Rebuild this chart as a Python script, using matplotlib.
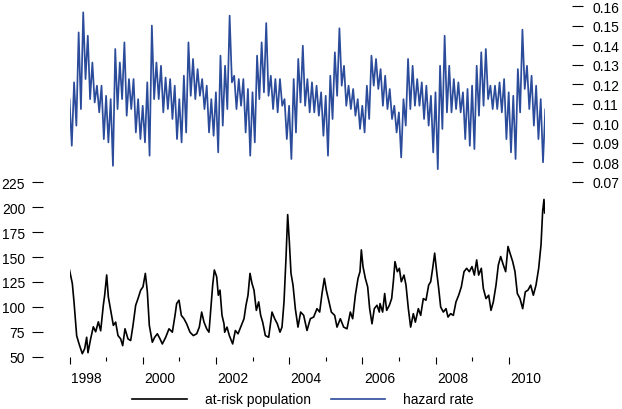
import numpy as np
import matplotlib
matplotlib.use('Agg')
import matplotlib.pyplot as plt
from matplotlib.lines import Line2D

# Helvetica-like text everywhere
plt.rcParams['font.family'] = ['Liberation Sans', 'DejaVu Sans']
plt.rcParams['font.size'] = 10

# at-risk population (left axis), time given in years after 1998-01-01
pop_t = [0.00, 0.077, 0.123, 0.196, 0.26, 0.35, 0.414, 0.469, 0.505, 0.578,
         0.651, 0.715, 0.788, 0.852, 0.924, 0.961, 1.016, 1.061, 1.125, 1.198,
         1.261, 1.325, 1.398, 1.453, 1.516, 1.598, 1.671, 1.735, 1.808, 1.872,
         1.945, 2.008, 2.072, 2.127, 2.181, 2.263, 2.327, 2.4, 2.473, 2.536,
         2.628, 2.719, 2.81, 2.883, 2.928, 2.992, 3.055, 3.128, 3.201, 3.292,
         3.383, 3.475, 3.547, 3.611, 3.675, 3.748, 3.811, 3.857, 3.912, 3.957,
         4.021, 4.066, 4.112, 4.167, 4.221, 4.24, 4.303, 4.367, 4.458, 4.531,
         4.604, 4.695, 4.768, 4.822, 4.877, 4.932, 4.986, 5.041, 5.105, 5.169,
         5.223, 5.278, 5.351, 5.442, 5.533, 5.606, 5.678, 5.751, 5.806, 5.861,
         5.915, 5.961, 6.006, 6.052, 6.107, 6.17, 6.243, 6.316, 6.398, 6.489,
         6.58, 6.671, 6.762, 6.835, 6.899, 6.963, 7.017, 7.081, 7.154, 7.245,
         7.309, 7.4, 7.491, 7.582, 7.673, 7.737, 7.81, 7.883, 7.937, 7.974,
         8.019, 8.083, 8.147, 8.201, 8.265, 8.328, 8.402, 8.465, 8.484, 8.556,
         8.611, 8.666, 8.739, 8.802, 8.848, 8.893, 8.957, 9.012, 9.066, 9.139,
         9.194, 9.258, 9.321, 9.394, 9.449, 9.531, 9.595, 9.667, 9.74, 9.813,
         9.868, 9.923, 9.977, 10.032, 10.087, 10.141, 10.214, 10.287, 10.342, 10.414,
         10.487, 10.56, 10.633, 10.706, 10.779, 10.852, 10.924, 10.997, 11.061, 11.125,
         11.179, 11.252, 11.307, 11.38, 11.453, 11.516, 11.58, 11.653, 11.717, 11.781,
         11.853, 11.917, 11.981, 12.036, 12.109, 12.172, 12.236, 12.309, 12.382, 12.454,
         12.527, 12.6, 12.673, 12.746, 12.819, 12.883, 12.928, 12.964, 12.983]
pop_val = [137, 123.5, 105, 71, 63, 53, 58, 69.5, 54, 68,
           80, 75, 85, 76, 101.6, 111.7, 132, 110, 96.5, 81.4,
           84.7, 71.2, 67.9, 61.1, 78, 67.9, 66.2, 81.4, 101.6, 108.3,
           116.8, 120.1, 133.6, 115, 81.4, 64.5, 69.5, 73, 67.9, 62.8,
           69.5, 78, 74.6, 91.5, 103.3, 106.7, 91.5, 88.1, 83, 74.6,
           71.2, 73, 79.7, 94.8, 84.7, 78, 74.6, 96.5, 121.8, 137,
           130.3, 111.7, 116.8, 91.5, 83, 74.6, 79.7, 71.2, 62.8, 76.3,
           73, 81.4, 88.1, 101.6, 111.7, 133.6, 123.5, 116.8, 96.5, 105,
           91.5, 84.7, 71.2, 69.5, 94.8, 88.1, 83, 74.6, 79.7, 105,
           148.8, 192.6, 165.7, 133.6, 121.8, 98.2, 79.7, 94.8, 91.5, 76.3,
           88.1, 89.8, 98.2, 94.8, 113.4, 128.6, 116.8, 106.7, 94.8, 91.5,
           79.7, 88.1, 79.7, 78, 94.8, 88.1, 111.7, 128.6, 135.3, 157.2,
           140.4, 128.6, 120.1, 98.2, 83, 98.2, 101.6, 94.8, 103.3, 94.8,
           113.4, 96.5, 101.6, 108.3, 125.2, 145.4, 135.3, 138.7, 125.2, 131.9,
           121.8, 98.2, 79.7, 93.2, 84.7, 98.2, 91.5, 108.3, 106.7, 121.8,
           125.2, 138.7, 153.9, 135.3, 118.5, 99.9, 94.8, 98.2, 89.8, 93.2,
           91.5, 105, 111.7, 120.1, 135.3, 138.7, 135.3, 140.4, 131.9, 147.1,
           131.9, 138.7, 118.5, 108.3, 111.7, 96.5, 105, 121.8, 142.1, 150.5,
           142.1, 135.3, 160.6, 153.9, 145.4, 135.3, 113.4, 108.3, 98.2, 115.1,
           116.8, 121.8, 111.7, 121.8, 138.7, 162.3, 196, 207.8, 194.3]

# hazard rate (right axis): top and bottom of the noisy band, every 1/8 year from 1998
hazard_t = np.arange(0, 13.001, 0.125)
hazard_hi = [0.1124, 0.1210, 0.1466, 0.1569, 0.1449, 0.1312, 0.1193, 0.1193, 0.1141, 0.1124,
             0.1381, 0.1312, 0.1415, 0.1227, 0.1227, 0.1124, 0.1090, 0.1210, 0.1501, 0.1312,
             0.1295, 0.1235, 0.1227, 0.1193, 0.1124, 0.1244, 0.1415, 0.1330, 0.1278, 0.1227,
             0.1193, 0.1124, 0.1159, 0.1347, 0.1295,
             0.1552, 0.1244, 0.1227, 0.1227, 0.1176, 0.1159, 0.1347, 0.1415, 0.1514, 0.1244,
             0.1227, 0.1227, 0.1124, 0.1090, 0.1227, 0.1330, 0.1398, 0.1227, 0.1210, 0.1193,
             0.1159, 0.1141, 0.1244, 0.1364, 0.1487, 0.1295, 0.1193, 0.1176, 0.1124, 0.1090,
             0.1193, 0.1347, 0.1330, 0.1278,
             0.1244, 0.1176, 0.1090, 0.1056, 0.1124, 0.1330, 0.1295, 0.1227, 0.1210, 0.1193,
             0.1141, 0.1159, 0.1295, 0.1449, 0.1295, 0.1227, 0.1210, 0.1159, 0.1176, 0.1193,
             0.1295, 0.1364, 0.1381, 0.1193, 0.1193, 0.1210, 0.1227, 0.1159, 0.1141, 0.1278,
             0.1480, 0.1295, 0.1244, 0.1193, 0.1124, 0.1073]
hazard_lo = [0.0885, 0.0988, 0.1073, 0.1227, 0.1124, 0.1107, 0.1056, 0.0919, 0.0902, 0.0782,
             0.1073, 0.1124, 0.1039, 0.1073, 0.0953, 0.0919, 0.0902, 0.0834, 0.1124, 0.1124,
             0.1056, 0.1073, 0.1022, 0.0919, 0.0902, 0.0953, 0.1141, 0.1124, 0.1141, 0.1073,
             0.0953, 0.0936, 0.0851, 0.0988, 0.1073,
             0.1210, 0.1073, 0.1090, 0.0953, 0.0834, 0.0902, 0.1124, 0.1159, 0.1141, 0.1073,
             0.1056, 0.1090, 0.0919, 0.0817, 0.0953, 0.1107, 0.1090, 0.1056, 0.1056, 0.1039,
             0.0936, 0.0834, 0.1022, 0.1141, 0.1193, 0.1090, 0.1073, 0.1039, 0.0971, 0.0953,
             0.1022, 0.1193, 0.1176, 0.1090,
             0.1073, 0.1022, 0.0953, 0.0825, 0.0988, 0.1073, 0.1090, 0.1090, 0.1022, 0.0988,
             0.0851, 0.0765, 0.0971, 0.1056, 0.1056, 0.1073, 0.1056, 0.0919, 0.0885, 0.0868,
             0.1039, 0.1090, 0.1124, 0.1073, 0.1073, 0.1056, 0.0919, 0.0851, 0.0817, 0.1056,
             0.1176, 0.1073, 0.0988, 0.0919, 0.0800, 0.0885]

year_labels = ['1998', '2000', '2002', '2004', '2006', '2008', '2010']
pop_ticks = [50, 75, 100, 125, 150, 175, 200, 225]
hazard_ticks = [0.07, 0.08, 0.09, 0.10, 0.11, 0.12, 0.13, 0.14, 0.15, 0.16]

blue = '#2B4B9B'

fig = plt.figure(figsize=(6.22, 4.10), dpi=100)
ax = fig.add_axes([69.5 / 622, 52 / 410, 475.8 / 622, 353 / 410])

# black population line on the left scale
ax.plot(1998 + np.array(pop_t), pop_val, color='black', lw=1.2)
ax.set_xlim(1998, 2011)
ax.set_ylim(49.7, 403.9)

# blue hazard line on the right scale, jumping between band top and bottom
ax2 = ax.twinx()
hx = np.empty(2 * len(hazard_t))
hy = np.empty(2 * len(hazard_t))
hx[0::2] = hazard_t
hx[1::2] = hazard_t + 1 / 16
hy[0::2] = hazard_hi
hy[1::2] = hazard_lo
ax2.plot(1998 + hx, hy, color=blue, lw=1.25)
ax2.set_xlim(1998, 2011)
ax2.set_ylim(-0.01985, 0.16118)

# no box, axes pushed away from the data like R
for a in (ax, ax2):
    for s in a.spines.values():
        s.set_visible(False)
ax.spines['left'].set_position(('outward', 19))
ax2.spines['right'].set_position(('outward', 19))

ax.set_yticks(pop_ticks)
ax.tick_params(axis='y', length=7.9, width=0.8, pad=5)
ax2.set_yticks(hazard_ticks)
ax2.set_yticklabels(['%.2f' % v for v in hazard_ticks])
ax2.tick_params(axis='y', length=8, width=0.8, pad=7.2)

# long ticks on even years, short ticks on odd years
ax.set_xticks(range(1998, 2011, 2))
ax.set_xticks(range(1999, 2011, 2), minor=True)
ax.tick_params(axis='x', which='major', length=4.8, width=0.8, labelbottom=False)
ax.tick_params(axis='x', which='minor', length=2.9, width=0.8)

# year labels sit in the middle of the year
sec = ax.secondary_xaxis('bottom')
sec.set_xticks([int(y) + 0.47 for y in year_labels], labels=year_labels)
sec.tick_params(length=0, pad=10)
sec.spines['bottom'].set_visible(False)

handles = [Line2D([], [], color='black', lw=1.2), Line2D([], [], color=blue, lw=1.2)]
fig.legend(handles, ['at-risk population', 'hazard rate'], loc='center',
           bbox_to_anchor=(303 / 622, 1 - 400.5 / 410), ncol=2, frameon=False,
           handlelength=3.9, handletextpad=1.3, columnspacing=1.45, fontsize=10)

fig.savefig('out.png', dpi=100)
